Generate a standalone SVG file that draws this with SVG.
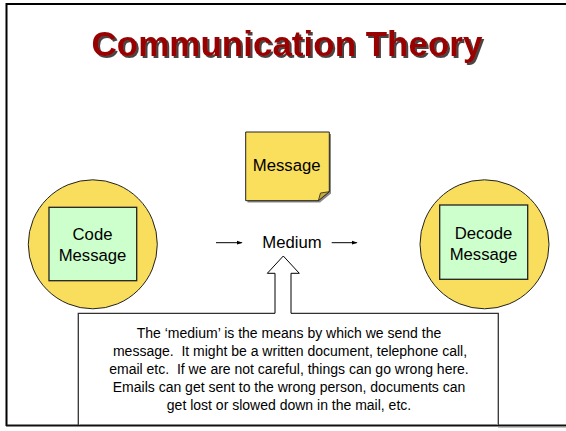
<svg xmlns="http://www.w3.org/2000/svg" width="566" height="431" viewBox="0 0 566 431">
  <style>
    .lbl { font-family: "Liberation Sans", Arial, sans-serif; font-size: 16.7px; fill: #000; text-anchor: middle; }
    .body { font-family: "Liberation Sans", Arial, sans-serif; font-size: 14px; fill: #000; text-anchor: middle; white-space: pre; }
    .title { font-family: "Liberation Sans", Arial, sans-serif; font-size: 35px; font-weight: bold; text-anchor: middle; fill: #990000; filter: url(#shade); }
    .disc { fill: #F9DD5C; stroke: #222; stroke-width: 1; }
    .box { fill: #CCFFCC; stroke: #222; stroke-width: 1.3; }
    .thin { stroke: #000; stroke-width: 1; fill: none; }
  </style>
  <defs>
    <filter id="shade" x="-5%" y="-20%" width="110%" height="150%">
      <feDropShadow dx="2" dy="2" stdDeviation="0.6" flood-color="#333" flood-opacity="0.9"/>
    </filter>
    <marker id="tip" viewBox="0 0 6 6" refX="5" refY="3" markerWidth="6" markerHeight="6" orient="auto" markerUnits="userSpaceOnUse">
      <path d="M0,1 L6,3 L0,5 z" fill="#000"/>
    </marker>
  </defs>

  <rect width="566" height="431" fill="#fff"/>

  <!-- slide frame -->
  <line x1="6.5" y1="4" x2="566" y2="4" stroke="#000" stroke-width="2"/>
  <line x1="6.5" y1="3" x2="6.5" y2="426" stroke="#000" stroke-width="2"/>
  <line x1="6" y1="425.5" x2="566" y2="425.5" stroke="#111" stroke-width="2"/>
  <line x1="498" y1="427" x2="566" y2="427" stroke="#888" stroke-width="1"/>

  <!-- heading -->
  <g id="title">
    <text class="title" x="287" y="56">Communication Theory</text>
  </g>

  <!-- sender -->
  <g id="code">
    <circle class="disc" cx="92.8" cy="244.3" r="64.5"/>
    <rect class="box" x="49" y="207.3" width="87.7" height="73.4"/>
    <text class="lbl" x="92.5" y="240">Code</text>
    <text class="lbl" x="92.5" y="261">Message</text>
  </g>

  <!-- receiver -->
  <g id="decode">
    <circle class="disc" cx="484.5" cy="244.3" r="64.5"/>
    <rect class="box" x="439.7" y="205" width="88" height="74.3"/>
    <text class="lbl" x="483.5" y="238.5">Decode</text>
    <text class="lbl" x="483.5" y="259.5">Message</text>
  </g>

  <!-- sticky note -->
  <g id="message">
    <path d="M247.5,134 L331,134 L331,193.5 L320,202.5 L247.5,202.5 z" fill="#888"/>
    <path d="M245.7,132 L329.3,132 L329.3,191.7 L318.3,200.7 L245.7,200.7 z" fill="#FADF5C" stroke="#222" stroke-width="1"/>
    <path d="M329.3,191.7 L320.5,193 L318.3,200.7 z" fill="#C9A93A" stroke="#222" stroke-width="0.8"/>
    <text class="lbl" x="286.7" y="171">Message</text>
  </g>

  <g id="medium">
    <text class="lbl" x="292" y="248">Medium</text>
  </g>

  <!-- explanation box -->
  <g id="note">
    <path d="M275,313.3 L78.3,313.3 L78.3,425 M291,313.3 L498.3,313.3 L498.3,425" fill="#fff" stroke="#333" stroke-width="1.3"/>
    <text class="body" x="289" y="337.5">The ‘medium’ is the means by which we send the</text>
    <text class="body" x="290" y="356">message.  It might be a written document, telephone call,</text>
    <text class="body" x="289" y="374">email etc.  If we are not careful, things can go wrong here.</text>
    <text class="body" x="289" y="392">Emails can get sent to the wrong person, documents can</text>
    <text class="body" x="289" y="410">get lost or slowed down in the mail, etc.</text>
  </g>

  <g id="connectors">
    <line class="thin" x1="216" y1="242.7" x2="241.7" y2="242.7" marker-end="url(#tip)"/>
    <line class="thin" x1="331.7" y1="242.7" x2="356.7" y2="242.7" marker-end="url(#tip)"/>
    <!-- block arrow pointing up at the medium -->
    <path d="M275,313.3 L275,273.3 L267.3,273.3 L283.3,256 L299.3,273.3 L291,273.3 L291,313.3" fill="#fff" stroke="#000" stroke-width="1"/>
  </g>
</svg>
